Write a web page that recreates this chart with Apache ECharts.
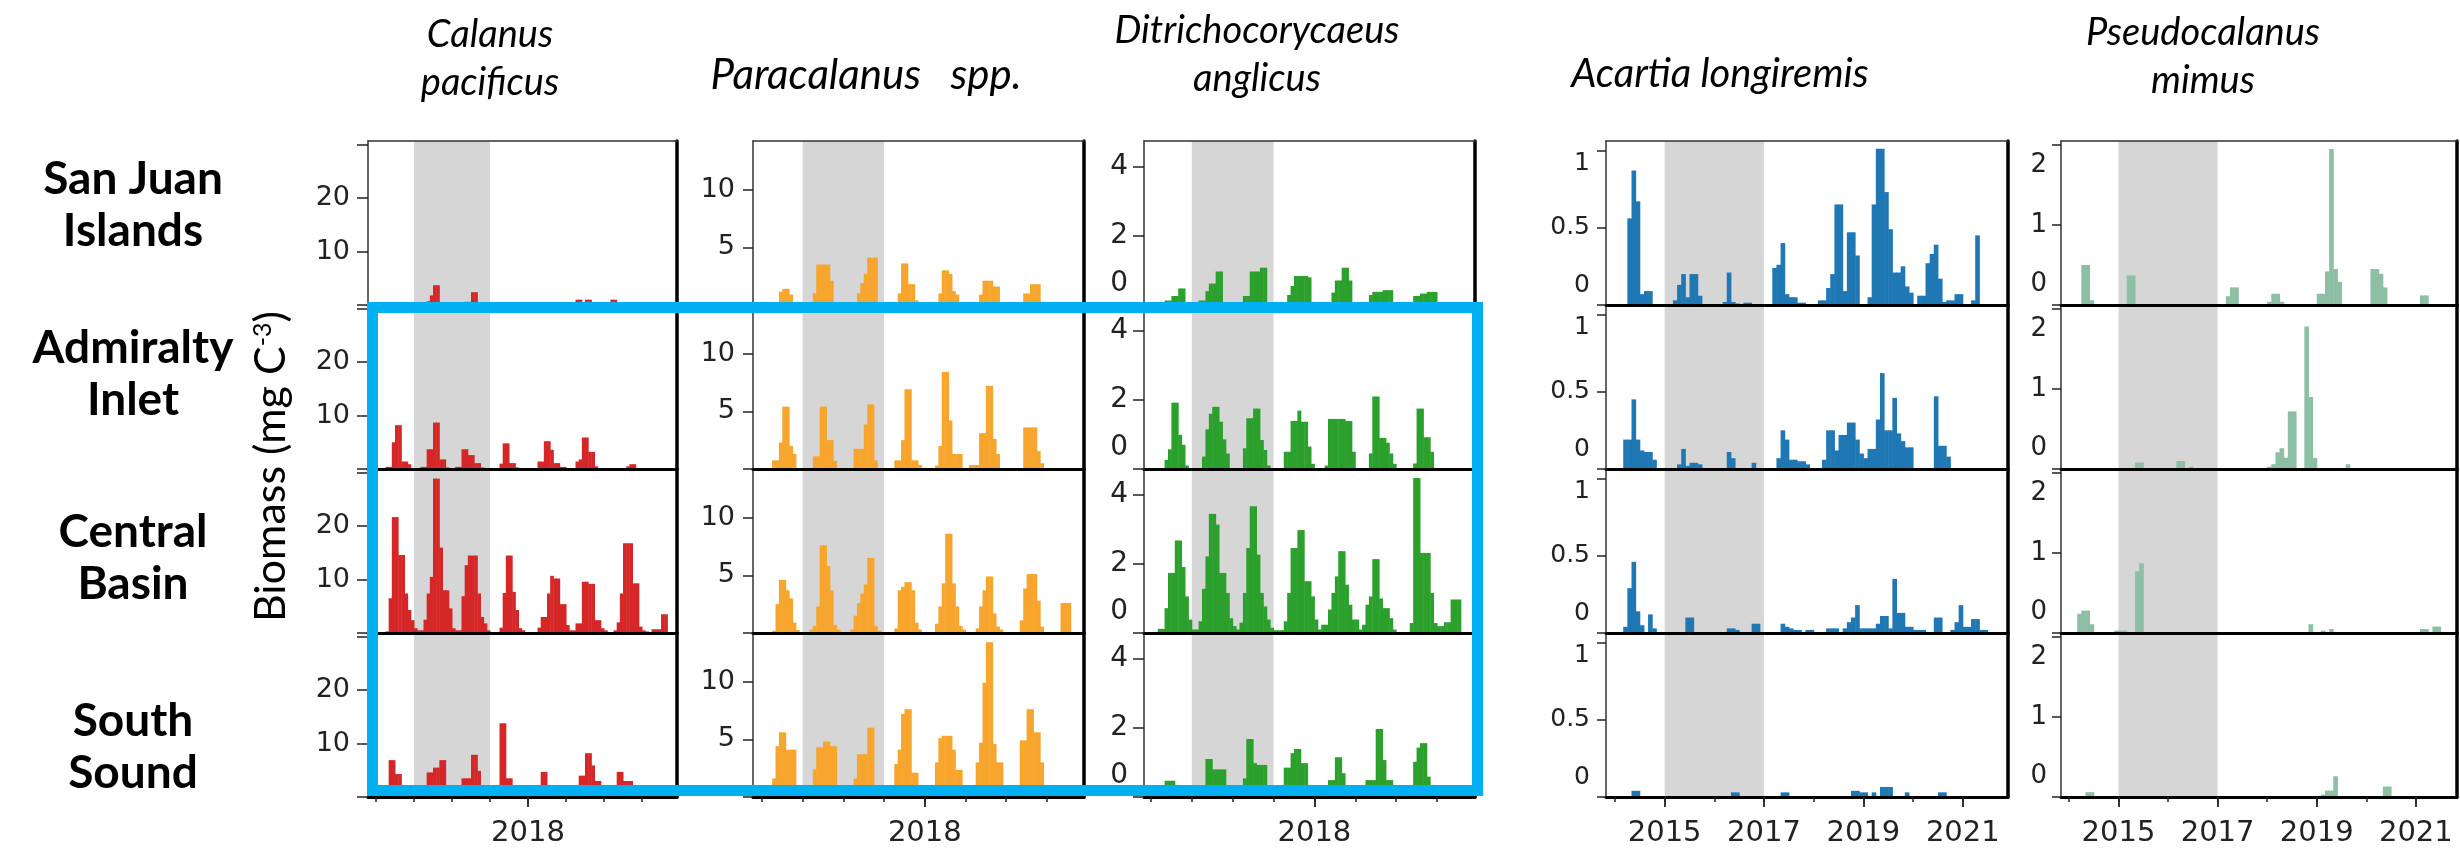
<!DOCTYPE html>
<html>
<head>
<meta charset="utf-8">
<script src="https://cdn.jsdelivr.net/npm/echarts@6/dist/echarts.min.js"></script>
<style>
  html, body { margin: 0; padding: 0; background: #ffffff; }
  #chart { width: 2460px; height: 854px; }
</style>
</head>
<body>
<div id="chart"></div>
<script>
// Monthly copepod biomass, January 2014 to December 2021 (one line per year)
const firstYear = 2014;

const calanusSanJuan = [
  0,0,0,0,0,0,0,0.5,0.5,0.4,0,0,
  0,0,0,0.5,0.7,1.8,3.7,3.7,0.5,0,0,0,
  0,0,0,0.3,0.6,0.6,2.4,2.4,0.5,0,0,0,
  0,0,0,0,0,0,0,0,0,0,0,0,
  0,0,0,0,0,0,0,0,0.5,0.5,0,0,
  0,0,0,1.0,1.0,0.3,1.0,1.0,0,0,0,0,
  0,0,1.0,1.0,0,0,0,0,0,0,0,0,
  0,0,0,0,0,0,0,0,0,0,0,0
];
const calanusAdmiralty = [
  0,0,0,0.4,0.4,5.0,8.2,8.2,1.4,1.4,0.9,0,
  0,0,0.4,0.4,3.7,3.7,8.7,8.7,1.8,1.8,0.3,0,
  0,0.4,0.4,3.7,3.7,2.6,2.6,1.1,1.1,0.3,0,0,
  0,0,0,1.0,4.8,4.8,1.1,1.1,0.3,0,0,0,
  0,0,0,1.4,1.4,5.2,5.2,3.6,1.1,1.1,0.4,0.4,
  0,0,0,1.4,1.8,5.9,5.9,3.2,3.2,0.5,0,0,
  0,0,0,0,0,0,0,0.5,0.9,0.9,0,0,
  0,0,0,0,0,0,0,0,0,0,0,0
];
const calanusCentral = [
  0,0,0,0.3,6.5,21.7,21.7,14.6,14.6,7.4,4.3,2.4,
  0.9,0.5,0.5,2.5,7.4,10.5,28.9,28.9,16,8,8,4.6,
  0.9,0.5,0.5,6.9,12.7,14.5,14.5,14.5,7.4,3,1.8,0.5,
  0,0,0,1.0,7.5,14.5,14.5,7.7,4.3,0.9,0.5,0,
  0,0,0,1,3,3,7.4,10.7,10.2,10.2,5.4,5.4,
  1.5,0.5,0.5,1.8,1.8,9.6,9.6,9.2,9.2,2.4,2.4,0.9,
  0.5,0,0,0.5,2,7.4,16.8,16.8,16.8,9.3,9.3,1.2,
  0.5,0.3,0,0.7,0.7,0.7,3.5,3.5,0,0,0,0
];
const calanusSouth = [
  0,0,0,0,6.9,6.9,4.3,4.3,0.5,0,0,0,
  0,0,0,0,4.6,4.6,5.5,5.5,6.9,6.9,0.5,0,
  0,0,0,3.5,3.5,3.5,7.9,7.9,4.9,0.5,0,0,
  0,0,0,13.8,13.8,3.5,3.5,0.5,0,0,0,0,
  0,0,0,0.5,4.7,4.7,0.5,0,0,0,0,0,
  0,0,0,1,4,4,8.2,8.2,5.9,3,3,0.5,
  0,0,0,0,4.7,4.7,3,3,3,0.5,0,0,
  0,0,0,0,0,0,0,0,0,0,0,0
];

const paracalanusSanJuan = [
  0,0,0,0,0,1.15,1.4,1.4,0.9,0,0,0,
  0,0,0,1.0,3.5,3.5,3.5,3.5,2.1,0,0,0,
  0,0,0,0,1.0,1.9,2.7,4.1,4.1,4.1,0,0,
  0,0,0,0,1.0,3.6,3.6,1.8,1.8,0.4,0,0,
  0,0,0,0,1.0,3.0,3.0,2.7,1.2,0.9,0,0,
  0,0,0,0,0.9,2.1,2.1,2.1,1.6,1.6,0,0,
  0,0,0,0,0,1.0,1.0,1.8,1.8,1.8,0.3,0,
  0,0,0,0,0,0,0,0,0,0,0,0
];
const paracalanusAdmiralty = [
  0,0,0,0.75,0.75,2.3,5.4,5.4,2.0,1.3,0,0,
  0,0,0,1.1,1.1,5.4,5.4,2.5,2.5,0.7,0,0,
  0,0,0,1.75,1.75,1.75,3.85,5.6,5.6,0.75,0,0,
  0,0,0,0.75,0.75,2.5,6.9,6.9,0.75,0.75,0.35,0,
  0,0,0,0.3,2.0,8.4,8.4,4.2,1.3,1.3,1.3,0,
  0,0.35,0.35,0.35,3.1,3.1,7.2,7.2,2.6,1.3,0,0,
  0,0,0,0,0,3.6,3.6,3.6,3.6,1.55,0.5,0,
  0,0,0,0,0,0,0,0,0,0,0,0
];
const paracalanusCentral = [
  0,0,0,0.2,2.5,4.6,4.6,3.7,3.0,0.9,0.25,0,
  0,0,0.3,0.6,2.3,7.6,7.6,5.8,3.7,0.7,0.3,0,
  0,0,0.3,1.5,2.6,3.4,4.2,6.5,6.5,0.6,0.2,0,
  0,0,0,0.4,3.7,4.0,4.4,4.4,3.7,0.9,0.3,0,
  0,0,0,0.8,2.3,4.3,8.6,8.6,4.3,2.3,0.6,0.3,
  0,0,0,0.4,2.3,3.7,4.9,4.9,1.7,0.55,0.3,0,
  0,0,0,0,1.1,3.85,5.1,5.1,5.1,2.8,0.55,0,
  0,0,0,0,2.6,2.6,2.6,0,0,0,0,0
];
const paracalanusSouth = [
  0,0,0,1.6,4.4,5.6,5.6,4.1,4.1,4.1,0.3,0,
  0,0,0,2.4,4.3,4.3,4.8,4.8,4.4,4.4,0,0,
  0,0,0,1.6,3.7,3.7,3.7,6.0,6.0,0.5,0,0,
  0,0,0,2.85,4.1,7.2,7.6,7.6,2.1,2.1,0,0,
  0,0,0,3.0,5.1,5.3,5.3,5.3,4.1,2.35,2.35,0,
  0,0,0,3.0,4.7,9.9,13.4,13.4,4.6,3.0,3.0,0,
  0,0,0,0,4.9,4.9,7.6,7.6,5.6,5.6,3.0,0,
  0,0,0,0,0,0,0,0,0,0,0,0
];

const ditrichocorycaeusSanJuan = [
  0,0,0,0,0.13,0.13,0.26,0.26,0.48,0.48,0,0,
  0,0,0.13,0.13,0.4,0.62,0.62,0.97,0.97,0,0,0,
  0,0,0,0.26,0.26,0.97,0.97,0.97,1.08,1.08,0,0,
  0,0,0,0,0.29,0.55,0.84,0.84,0.84,0.84,0.8,0,
  0,0,0,0,0,0.36,0.71,0.71,1.08,1.08,0.71,0,
  0,0,0,0,0.29,0.38,0.38,0.38,0.43,0.43,0.43,0,
  0,0,0,0,0,0.26,0.26,0.33,0.33,0.38,0.38,0.38,
  0,0,0,0,0,0,0,0,0,0,0,0
];
const ditrichocorycaeusAdmiralty = [
  0,0,0,0,0.26,0.57,1.92,1.92,0.99,0.7,0.1,0,
  0,0,0,0.36,1.15,1.6,1.8,1.8,1.37,0.86,0.45,0,
  0,0,0,0.6,1.47,1.47,1.75,1.75,0.84,0.55,0.1,0,
  0,0,0,0.5,0.5,1.39,1.39,1.69,1.37,1.37,0.65,0.15,
  0,0,0,0.1,1.45,1.45,1.45,1.45,1.45,1.39,1.39,0.5,
  0,0,0,0,0.45,2.1,2.1,0.9,0.9,0.76,0.45,0.15,
  0,0,0,0,0,0.16,1.75,1.75,0.92,0.92,0.5,0,
  0,0,0,0,0,0,0,0,0,0,0,0
];
const ditrichocorycaeusCentral = [
  0,0,0.12,0.12,0.72,1.74,1.74,2.68,2.68,1.91,1.06,0.39,
  0.1,0.1,0.34,1.28,2.22,3.45,3.45,3.14,1.74,1.74,1.16,0.43,
  0.2,0.1,0.3,1.16,2.46,3.67,3.67,2.27,1.16,0.77,0.39,0.15,
  0.08,0.08,0.08,0.34,1.16,2.46,2.46,2.98,2.98,1.5,1.5,1.06,
  0.39,0.1,0.24,0.24,0.68,1.16,1.64,2.37,2.37,1.4,0.82,0.39,
  0.39,0.1,0.24,0.82,1.06,2.14,2.14,1.0,0.72,0.72,0.43,0.1,
  0,0,0,0,0.29,4.49,4.49,2.32,2.32,2.32,1.16,0.29,
  0.2,0.2,0.31,0.31,0.97,0.97,0.97,0,0,0,0,0
];
const ditrichocorycaeusSouth = [
  0,0,0,0,0.47,0.47,0.47,0,0,0,0,0,
  0,0,0,0,1.1,1.1,0.8,0.8,0.8,0.8,0,0,
  0,0,0,0.54,1.68,1.68,0.98,0.93,0.93,0.93,0,0,
  0,0,0,0.85,0.85,1.27,1.39,1.39,0.98,0.98,0.3,0,
  0,0,0,0,0.49,0.49,1.15,1.15,0.69,0,0,0,
  0,0,0,0.49,0.49,0.49,1.97,1.97,1.07,0.49,0.49,0,
  0,0,0,0,0.3,1.02,1.43,1.56,1.56,0.59,0.2,0,
  0,0,0,0,0,0,0,0,0,0,0,0
];

const acartiaSanJuan = [
  0,0,0,0.56,0.87,0.67,0.07,0.09,0.09,0,0,0,
  0,0,0.03,0.13,0.2,0.05,0.2,0.2,0.06,0,0,0,
  0,0,0.02,0.21,0.02,0.01,0,0.015,0.015,0,0,0,
  0,0,0.24,0.26,0.4,0.07,0.05,0.05,0.015,0.015,0,0,
  0,0.03,0.03,0.11,0.2,0.65,0.65,0.09,0.47,0.47,0.32,0,
  0,0.05,0.65,1.01,1.01,0.73,0.49,0.21,0.21,0.25,0.12,0.08,
  0,0.06,0.06,0.27,0.33,0.39,0.17,0.02,0.03,0.03,0.07,0.07,
  0,0,0.03,0.45,0,0,0,0,0,0,0,0
];
const acartiaAdmiralty = [
  0,0,0.19,0.19,0.45,0.19,0.12,0.11,0.11,0.06,0,0,
  0,0,0,0.03,0.13,0.02,0.04,0.04,0.03,0,0,0,
  0,0,0,0.11,0.07,0,0,0,0,0.04,0,0,
  0,0,0,0.07,0.25,0.19,0.06,0.06,0.05,0.05,0.03,0,
  0,0,0.06,0.25,0.25,0.12,0.22,0.22,0.3,0.3,0.19,0.1,
  0.07,0.13,0.13,0.32,0.62,0.25,0.25,0.46,0.23,0.18,0.14,0.14,
  0,0,0,0,0,0.47,0.15,0.15,0.08,0,0,0,
  0,0,0,0,0,0,0,0,0,0,0,0
];
const acartiaCentral = [
  0,0,0.04,0.29,0.46,0.14,0.05,0,0.12,0.03,0,0,
  0,0,0,0,0,0.1,0.1,0,0,0,0,0,
  0,0,0,0.03,0.03,0.02,0,0,0,0.06,0.06,0,
  0,0,0,0,0.06,0.04,0.03,0.02,0.02,0,0.02,0.02,
  0,0,0,0.03,0.03,0.03,0,0.03,0.07,0.1,0.18,0.03,
  0.03,0.03,0.03,0.06,0.11,0.11,0.03,0.35,0.13,0.13,0.04,0.04,
  0.02,0.02,0.02,0,0,0.1,0.1,0,0,0.02,0.07,0.18,
  0.04,0.04,0.09,0.09,0.02,0.02,0,0,0,0,0,0
];
const acartiaSouth = [
  0,0,0,0,0.04,0.04,0,0,0,0,0,0,
  0,0,0,0,0,0,0,0,0,0,0,0,
  0,0,0,0,0.03,0.03,0,0,0,0,0,0,
  0,0,0,0,0.03,0.03,0,0,0,0,0,0,
  0,0,0,0,0,0,0,0,0,0.04,0.04,0.03,
  0.03,0,0.03,0,0.065,0.065,0.065,0,0,0,0.03,0,
  0,0,0,0,0,0,0.03,0.03,0,0,0,0,
  0,0,0,0,0,0,0,0,0,0,0,0
];

const pseudocalanusSanJuan = [
  0,0,0,0.5,0.5,0.06,0,0,0,0,0,0,
  0,0,0.37,0.37,0,0,0,0,0,0,0,0,
  0,0,0,0,0,0,0,0,0,0,0,0,
  0,0,0.11,0.22,0.22,0,0,0,0,0,0,0,
  0.04,0.14,0.14,0.04,0,0,0,0,0,0,0,0,
  0.14,0.14,0.42,1.95,0.45,0.29,0,0,0,0,0,0,
  0,0.45,0.45,0.39,0.22,0,0,0,0,0,0,0,
  0,0.12,0.12,0,0,0,0,0,0,0,0,0
];
const pseudocalanusAdmiralty = [
  0,0,0,0,0,0,0,0,0,0,0,0,
  0,0,0,0,0.08,0.08,0,0,0,0,0,0,
  0,0,0.1,0.1,0,0.03,0,0,0,0,0,0,
  0,0,0,0,0,0,0,0,0,0,0,0,
  0.03,0.06,0.21,0.26,0.14,0.72,0.72,0,0,1.78,0.9,0.14,
  0,0,0,0,0,0,0,0.06,0,0,0,0,
  0,0,0,0,0,0,0,0,0,0,0,0,
  0,0,0,0,0,0,0,0,0,0,0,0
];
const pseudocalanusCentral = [
  0,0,0.24,0.28,0.28,0.11,0,0,0,0,0,0.03,
  0.03,0.03,0,0,0.77,0.87,0,0,0,0,0,0,
  0,0,0,0,0,0,0,0,0,0,0,0,
  0,0,0,0,0,0,0,0,0,0,0,0,
  0,0,0,0,0,0,0,0,0,0,0.11,0,
  0,0.03,0,0.05,0,0,0,0,0,0,0,0,
  0,0,0,0,0,0,0,0,0,0,0,0,
  0,0.05,0.05,0,0.08,0.08,0,0,0,0,0,0
];
const pseudocalanusSouth = [
  0,0,0,0,0.06,0.06,0,0,0,0,0,0,
  0,0,0,0,0,0,0,0,0,0,0,0,
  0,0,0,0,0,0,0,0,0,0,0,0,
  0,0,0,0,0,0,0,0,0,0,0,0,
  0,0,0,0,0,0,0,0,0,0,0,0,
  0,0.03,0.08,0.08,0.26,0,0,0,0,0,0,0,
  0,0,0,0,0.13,0.13,0,0,0,0,0,0,
  0,0,0,0,0,0,0,0,0,0,0,0
];

// Axis ticks and labels
const yearTicks = [2014, 2015, 2016, 2017, 2018, 2019, 2020, 2021];
const shortSpanYearLabels = [2018];
const longSpanYearLabels = [2015, 2017, 2019, 2021];
const warmPeriod = [2015, 2017];
const calanusTicks = [0, 10, 20, 30], calanusLabels = [10, 20];
const paracalanusTicks = [0, 5, 10], paracalanusLabels = [5, 10];
const ditrichocorycaeusTicks = [0, 2, 4], ditrichocorycaeusLabels = [0, 2, 4];
const acartiaTicks = [0, 0.5, 1], acartiaLabels = [0, 0.5, 1];
const pseudocalanusTicks = [0, 1, 2], pseudocalanusLabels = [0, 1, 2];

const regionNames = ['San Juan\nIslands', 'Admiralty\nInlet', 'Central\nBasin', 'South\nSound'];

// Panel layout (pixels) and styling per species column
const rowTop = [141, 305, 469, 633];
const rowHeight = 164;
const tickFont = 'DejaVu Sans, Verdana, sans-serif';
const textFont = 'Lato, "Open Sans", sans-serif';

const columns = [
  { title: 'Calanus\npacificus', titleX: 490, titleY: 59, titleSize: 38,
    series: [calanusSanJuan, calanusAdmiralty, calanusCentral, calanusSouth],
    color: '#d62728', left: 368, right: 677, xMin: 2013.79, xMax: 2021.92,
    yMax: 30.7, ticks: calanusTicks, labels: calanusLabels, xLabels: shortSpanYearLabels,
    font: 27, margin: 18, tickLen: 11, zeroLift: 0, topDrop: null },
  { title: 'Paracalanus   spp.', titleX: 866, titleY: 75, titleSize: 42,
    series: [paracalanusSanJuan, paracalanusAdmiralty, paracalanusCentral, paracalanusSouth],
    color: '#f7a52d', left: 753, right: 1084, xMin: 2013.78, xMax: 2021.91,
    yMax: 14.2, ticks: paracalanusTicks, labels: paracalanusLabels, xLabels: shortSpanYearLabels,
    font: 27, margin: 18, tickLen: 10, zeroLift: 0, topDrop: null },
  { title: 'Ditrichocorycaeus\nanglicus', titleX: 1257, titleY: 55, titleSize: 38,
    series: [ditrichocorycaeusSanJuan, ditrichocorycaeusAdmiralty, ditrichocorycaeusCentral, ditrichocorycaeusSouth],
    color: '#2ca02c', left: 1144, right: 1475, xMin: 2013.83, xMax: 2021.93,
    yMax: 4.75, ticks: ditrichocorycaeusTicks, labels: ditrichocorycaeusLabels, xLabels: shortSpanYearLabels,
    font: 28, margin: 16, tickLen: 11, zeroLift: 21, topDrop: null },
  { title: 'Acartia longiremis', titleX: 1720, titleY: 74, titleSize: 40,
    series: [acartiaSanJuan, acartiaAdmiralty, acartiaCentral, acartiaSouth],
    color: '#1f77b4', left: 1606, right: 2008, xMin: 2013.82, xMax: 2021.91,
    yMax: 1.06, ticks: acartiaTicks, labels: acartiaLabels, xLabels: longSpanYearLabels,
    font: 25, margin: 16, tickLen: 9, zeroLift: 20, topDrop: { value: 1, px: 13 } },
  { title: 'Pseudocalanus\nmimus', titleX: 2203, titleY: 57, titleSize: 38,
    series: [pseudocalanusSanJuan, pseudocalanusAdmiralty, pseudocalanusCentral, pseudocalanusSouth],
    color: '#8dbfa4', left: 2061, right: 2457, xMin: 2013.84, xMax: 2021.83,
    yMax: 2.05, ticks: pseudocalanusTicks, labels: pseudocalanusLabels, xLabels: longSpanYearLabels,
    font: 26, margin: 14, tickLen: 9, zeroLift: 21, topDrop: { value: 2, px: 20 } }
];

// Each month becomes [start, end, biomass] on a decimal-year axis
function monthlyBars(values) {
  const out = [];
  values.forEach((v, i) => {
    if (v > 0) out.push([firstYear + i / 12, firstYear + (i + 1) / 12, v]);
  });
  return out;
}

function renderMonth(params, api) {
  const top = api.coord([api.value(0), api.value(2)]);
  const base = api.coord([api.value(1), 0]);
  return {
    type: 'rect',
    shape: { x: top[0], y: top[1], width: base[0] - top[0] + 0.5, height: base[1] - top[1] },
    style: { fill: api.visual('color') }
  };
}

const grids = [], xAxes = [], yAxes = [], series = [];

columns.forEach(col => {
  const labelStyle = { fontSize: col.font, fontFamily: tickFont, color: '#222' };
  rowTop.forEach((top, r) => {
    const g = grids.length;
    const isBottom = r === rowTop.length - 1;
    grids.push({ left: col.left, top: top, width: col.right - col.left, height: rowHeight });

    const xMain = xAxes.length;
    xAxes.push({
      type: 'value', gridIndex: g, min: col.xMin, max: col.xMax, position: 'bottom', z: 3,
      axisLine: { show: true, onZero: false, lineStyle: { color: '#000', width: 3 } },
      axisTick: { show: isBottom, customValues: yearTicks, length: 5, lineStyle: { color: '#222', width: 1.5 } },
      axisLabel: { show: false }, splitLine: { show: false }
    });
    if (isBottom) {
      xAxes.push({
        type: 'value', gridIndex: g, min: col.xMin, max: col.xMax, position: 'bottom', z: 3,
        axisLine: { show: false },
        axisTick: { show: true, customValues: col.xLabels, length: 10, lineStyle: { color: '#222', width: 1.8 } },
        axisLabel: { show: true, customValues: col.xLabels, margin: 22, fontSize: 29, fontFamily: tickFont,
          color: '#222', formatter: v => String(Math.round(v)) },
        splitLine: { show: false }
      });
    }
    if (r === 0) {
      xAxes.push({
        type: 'value', gridIndex: g, min: col.xMin, max: col.xMax, position: 'top', z: 3,
        axisLine: { show: true, onZero: false, lineStyle: { color: '#333', width: 1.5 } },
        axisTick: { show: false }, axisLabel: { show: false }, splitLine: { show: false }
      });
    }

    const yMain = yAxes.length;
    const rich = {
      lift: Object.assign({ padding: [0, 0, col.zeroLift * 2, 0] }, labelStyle),
      drop: Object.assign({ padding: [col.topDrop ? col.topDrop.px * 2 : 0, 0, 0, 0] }, labelStyle)
    };
    yAxes.push({
      type: 'value', gridIndex: g, min: 0, max: col.yMax, position: 'left', z: 3,
      axisLine: { show: true, onZero: false, lineStyle: { color: '#333', width: 1.5 } },
      axisTick: { show: true, customValues: col.ticks, length: col.tickLen, lineStyle: { color: '#222', width: 1.5 } },
      axisLabel: Object.assign({
        show: true, customValues: col.labels, margin: col.margin, rich: rich,
        formatter: v => {
          if (v === 0 && col.zeroLift) return '{lift|0}';
          if (col.topDrop && v === col.topDrop.value) return '{drop|' + v + '}';
          return String(v);
        }
      }, labelStyle),
      splitLine: { show: false }
    });
    yAxes.push({
      type: 'value', gridIndex: g, min: 0, max: col.yMax, position: 'right', z: 3,
      axisLine: { show: true, onZero: false, lineStyle: { color: '#000', width: 3.5 } },
      axisTick: { show: false }, axisLabel: { show: false }, splitLine: { show: false }
    });

    // 2015-2017 shading
    series.push({
      type: 'line', xAxisIndex: xMain, yAxisIndex: yMain, data: [[warmPeriod[0], 0]],
      symbol: 'none', lineStyle: { opacity: 0 }, silent: true, animation: false,
      markArea: { silent: true, itemStyle: { color: '#d6d6d6' },
        data: [[{ xAxis: warmPeriod[0] }, { xAxis: warmPeriod[1] }]] }
    });
    // monthly biomass
    series.push({
      type: 'custom', xAxisIndex: xMain, yAxisIndex: yMain, clip: true, silent: true,
      encode: { x: [0, 1], y: 2 }, itemStyle: { color: col.color },
      renderItem: renderMonth, data: monthlyBars(col.series[r])
    });
  });
});

const graphics = [];
columns.forEach(col => {
  graphics.push({
    type: 'text', x: col.titleX, y: col.titleY, z: 50,
    style: { text: col.title, fill: '#000', font: 'italic ' + col.titleSize + 'px ' + textFont,
      align: 'center', verticalAlign: 'middle', lineHeight: 48 }
  });
});
const regionY = [205, 374, 558, 747];
regionNames.forEach((name, r) => {
  graphics.push({
    type: 'text', x: 133, y: regionY[r], z: 50,
    style: { text: name, fill: '#000', font: 'bold 46px ' + textFont,
      align: 'center', verticalAlign: 'middle', lineHeight: 52 }
  });
});
// rotated axis title, reading upward from its baseline start
graphics.push({
  type: 'text', x: 293, y: 622, rotation: Math.PI / 2, z: 50,
  style: {
    text: '{n|Biomass (mg C}{s|-3}{n|)}', align: 'left', verticalAlign: 'bottom',
    rich: {
      n: { fontSize: 43, fontFamily: textFont, fill: '#000', verticalAlign: 'bottom' },
      s: { fontSize: 25, fontFamily: textFont, fill: '#000', verticalAlign: 'top' }
    }
  }
});
// highlighted block: rows 2-4 of the first three species
graphics.push({
  type: 'rect', z: 100, silent: true,
  shape: { x: 372.5, y: 307.5, width: 1105, height: 483 },
  style: { fill: 'none', stroke: '#00b0f0', lineWidth: 11 }
});

const chart = echarts.init(document.getElementById('chart'));
chart.setOption({
  animation: false,
  backgroundColor: '#ffffff',
  grid: grids,
  xAxis: xAxes,
  yAxis: yAxes,
  series: series,
  graphic: graphics
});
</script>
</body>
</html>
